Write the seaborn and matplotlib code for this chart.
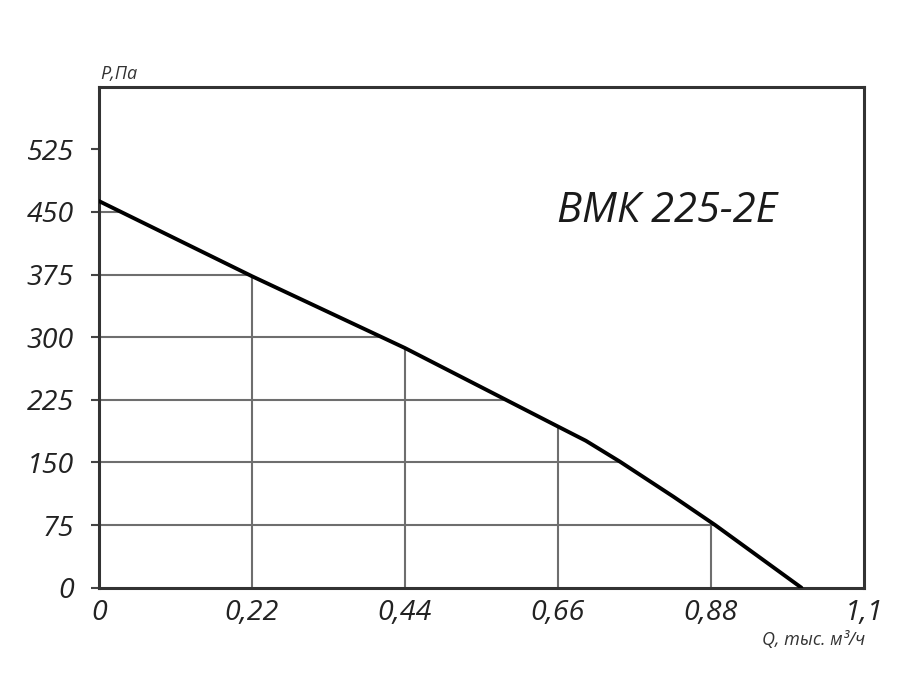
import matplotlib
matplotlib.use("Agg")
import matplotlib.pyplot as plt
from matplotlib.patches import Polygon
import seaborn as sns
import pandas as pd

# Data
flow_q = [0.0, 0.22, 0.44, 0.66, 0.70, 0.749, 0.826, 0.886, 1.01]
pressure_p = [463, 373, 287, 193, 176, 151, 109, 75, 0]
x_ticks = [0, 0.22, 0.44, 0.66, 0.88, 1.1]
x_tick_labels = ["0", "0,22", "0,44", "0,66", "0,88", "1,1"]
y_ticks = [0, 75, 150, 225, 300, 375, 450, 525]
y_tick_labels = ["0", "75", "150", "225", "300", "375", "450", "525"]
title_text = "ВМК 225-2Е"
y_label = "Р,Па"
x_label = "Q, тыс. м³/ч"

sns.set_theme(style="white")
plt.rcParams['font.family'] = ['Open Sans', 'DejaVu Sans']

fig = plt.figure(figsize=(9.07, 6.87), dpi=100)
ax = fig.add_axes([99/907, 1 - 587.7/687, (864 - 99)/907, (587.7 - 86.7)/687])

df = pd.DataFrame({"Q": flow_q, "P": pressure_p})

ax.set_xlim(0, 1.1)
ax.set_ylim(0, 600)

# clip region: area under curve
poly_pts = list(zip(flow_q, pressure_p)) + [(flow_q[-1], 0), (0, 0)]
clip_poly = Polygon(poly_pts, closed=True, transform=ax.transData,
                    facecolor="none", edgecolor="none")
ax.add_patch(clip_poly)

grid_color = "#6e6e6e"
for yv in y_ticks[1:]:
    ln = ax.axhline(yv, color=grid_color, lw=1.5, zorder=1)
    ln.set_clip_path(clip_poly)
for xv in x_ticks[1:-1]:
    ln = ax.axvline(xv, color=grid_color, lw=1.5, zorder=1)
    ln.set_clip_path(clip_poly)

sns.lineplot(data=df, x="Q", y="P", ax=ax, color="black", lw=2.8, zorder=3)

ax.set_xticks(x_ticks)
ax.set_xticklabels(x_tick_labels)
ax.set_yticks(y_ticks)
ax.set_yticklabels(y_tick_labels)
ax.set_xlabel("")
ax.set_ylabel("")

for lab in ax.get_xticklabels() + ax.get_yticklabels():
    lab.set_fontstyle("italic")
    lab.set_fontsize(20.5)
    lab.set_color("#222222")

ax.tick_params(axis="y", which="both", left=True, length=6, width=1.5,
               color="#444444", pad=12)
ax.tick_params(axis="x", which="both", bottom=False, length=0, pad=8)

for sp in ax.spines.values():
    sp.set_visible(True)
    sp.set_color("#333333")
    sp.set_linewidth(2.2)

ax.text(0.742, 0.752, title_text, transform=ax.transAxes, fontsize=30,
        fontstyle="italic", color="#1a1a1a", ha="center", va="center")

fig.text(100/907, 1 - 74/687, y_label, fontsize=13, fontstyle="italic",
         color="#333333", ha="left", va="center")
fig.text(865/907, 1 - 640/687, x_label, fontsize=13, fontstyle="italic",
         color="#333333", ha="right", va="center")

fig.savefig("out.png", dpi=100, facecolor="white")
